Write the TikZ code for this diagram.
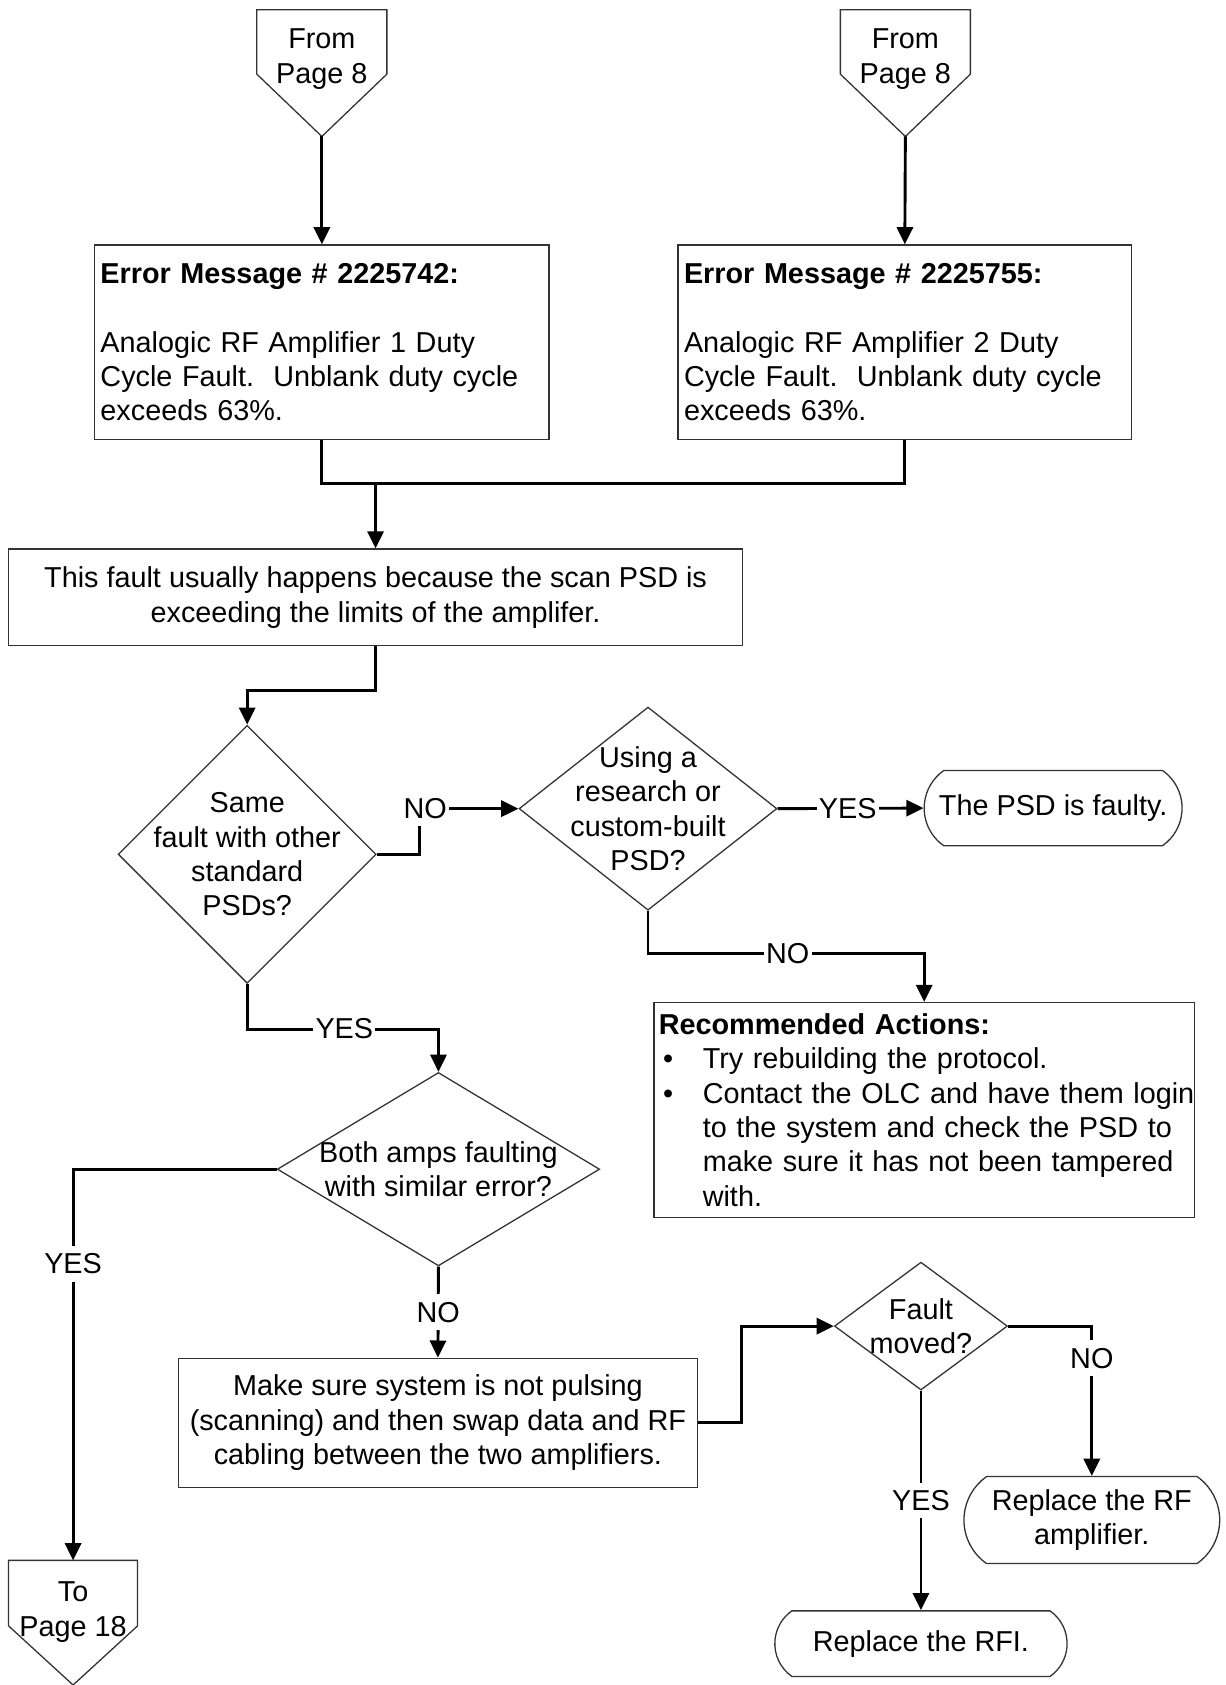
\documentclass[tikz,border=0pt]{standalone}
\usepackage{fontspec}
\setmainfont{Liberation Sans}
\usetikzlibrary{shapes.geometric,shapes.misc,arrows.meta}
\begin{document}
\begin{tikzpicture}[x=0.5pt,y=-0.5pt,
  every node/.style={font=\fontsize{13.4pt}{16pt}\selectfont},
  outline/.style={draw=black!80, line width=0.6pt},
  box/.style={outline, rectangle, inner sep=0pt, align=center},
  leftbox/.style={outline, rectangle, inner xsep=2.75pt, inner ysep=0pt, align=left},
  decision/.style={outline, diamond, inner sep=0pt},
  terminal/.style={outline, rounded rectangle, rounded rectangle arc length=110, inner sep=0pt, align=center},
  txt/.style={inner sep=0pt, align=center},
  pagetxt/.style={inner sep=0pt, align=center, font=\fontsize{13.4pt}{16.5pt}\selectfont},
  flow/.style={line width=1.35pt, -{Triangle[length=8pt,width=7.5pt]}},
  link/.style={line width=1.35pt},
  lbl/.style={fill=white, inner xsep=1pt, inner ysep=3.5pt},
]
\fill[white] (0,0) rectangle (1140,1568);
\useasboundingbox (0,0) rectangle (1140,1568);

% incoming off-page connectors
\node[pagetxt] (c1) at (299.5,55) {From\\Page 8};
\draw[outline] (239,9) -- (360,9) -- (360,69) -- (299.5,127) -- (239,69) -- cycle;
\coordinate (c1tip) at (299.5,127);
\node[pagetxt] (c2) at (842.5,55) {From\\Page 8};
\draw[outline] (782,9) -- (903,9) -- (903,69) -- (842.5,127) -- (782,69) -- cycle;
\coordinate (c2tip) at (842.5,127);

% error messages
\node[leftbox, text width=206pt, minimum height=90.5pt] (e1) at (299.5,318.5)
  {\textbf{Error Message \# 2225742:}\\[16pt]
   Analogic RF Amplifier 1 Duty\\
   Cycle Fault.\ \ Unblank duty cycle\\
   exceeds 63\%.};
\node[leftbox, text width=205.5pt, minimum height=90.5pt] (e2) at (842,318.5)
  {\textbf{Error Message \# 2225755:}\\[16pt]
   Analogic RF Amplifier 2 Duty\\
   Cycle Fault.\ \ Unblank duty cycle\\
   exceeds 63\%.};

\node[box, minimum width=341.5pt, minimum height=45pt] (b3) at (349.5,556)
  {This fault usually happens because the scan PSD is\\exceeding the limits of the amplifer.};

% decisions
\node[decision, minimum width=120pt, minimum height=120pt] (d1) at (230,795) {};
\node[txt] (d1t) at (d1.center) {Same\\fault with other\\standard\\PSDs?};
\node[decision, minimum width=120pt, minimum height=94.5pt] (d2) at (603,752.5) {};
\node[txt] (d2t) at (d2.center) {Using a\\research or\\custom-built\\PSD?};
\node[terminal, minimum width=120pt, minimum height=35pt] (t1) at (980,752) {The PSD is faulty.};

\node[leftbox, inner xsep=2.25pt, text width=247pt, minimum height=100pt] (ra) at (860,1033)
  {\textbf{Recommended Actions:}\\
   \mbox{\makebox[20.5pt][l]{\hspace{2pt}•}Try rebuilding the protocol.}\\
   \mbox{\makebox[20.5pt][l]{\hspace{2pt}•}Contact the OLC and have them login}\\
   \mbox{\hspace*{20.5pt}to the system and check the PSD to}\\
   \mbox{\hspace*{20.5pt}make sure it has not been tampered}\\
   \mbox{\hspace*{20.5pt}with.}};

\node[decision, minimum width=150pt, minimum height=90pt] (d3) at (408,1088) {};
\node[txt] (d3t) at (d3.center) {Both amps faulting\\with similar error?};

\node[box, minimum width=241.5pt, minimum height=60pt] (b5) at (407.5,1324)
  {Make sure system is not pulsing\\(scanning) and then swap data and RF\\cabling between the two amplifiers.};

\node[decision, minimum width=80.5pt, minimum height=59.5pt] (d4) at (857,1234) {};
\node[txt] (d4t) at (d4.center) {Fault\\moved?};
\node[terminal, minimum width=119pt, minimum height=40.5pt] (t2) at (1016,1414.5) {Replace the RF\\amplifier.};
\node[terminal, minimum width=136pt, minimum height=30.5pt] (t3) at (857,1529.5) {Replace the RFI.};

% outgoing off-page connector
\node[pagetxt] (c3) at (68,1500) {To\\Page 18};
\draw[outline] (8,1452) -- (128,1452) -- (128,1513) -- (68,1568) -- (8,1513) -- cycle;
\coordinate (c3top) at (68,1452);

% connectors
\draw[flow] (c1tip) -- (e1.north);
\draw[flow] (c2tip) -- (e2.north);
\draw[link] (e1.south) -- ++(0,40) -| (e2.south);
\coordinate (m) at (349.5,449);
\draw[flow] (m) -- (b3.north);
\draw[flow] (b3.south) -- ++(0,41) -| (d1.north);
\draw[flow] (d1.east) -- ++(40,0) |- node[lbl, pos=0.5, xshift=2.5pt] (no1) {NO} (d2.west);
\draw[flow] (d2.east) -- node[lbl, pos=0.48] (yes1) {YES} (t1.west);
\draw[flow] (d2.south) -- ++(0,40) -| node[lbl, pos=0.253] (no2) {NO} (ra.north);
\draw[flow] (d1.south) -- ++(0,42) -| node[lbl, pos=0.254] (yes2) {YES} (d3.north);
\draw[flow] (d3.west) -| node[lbl, pos=0.621] (yes3) {YES} (c3top);
\draw[flow] (d3.south) -- node[lbl, pos=0.5] (no3) {NO} (b5.north);
\draw[flow] (b5.east) -- ++(40,0) |- (d4.west);
\draw[flow] (d4.east) -| node[lbl, pos=0.607] (no4) {NO} (t2.north);
\draw[flow] (d4.south) -- node[lbl, pos=0.5] (yes4) {YES} (t3.north);
\end{tikzpicture}
\end{document}
